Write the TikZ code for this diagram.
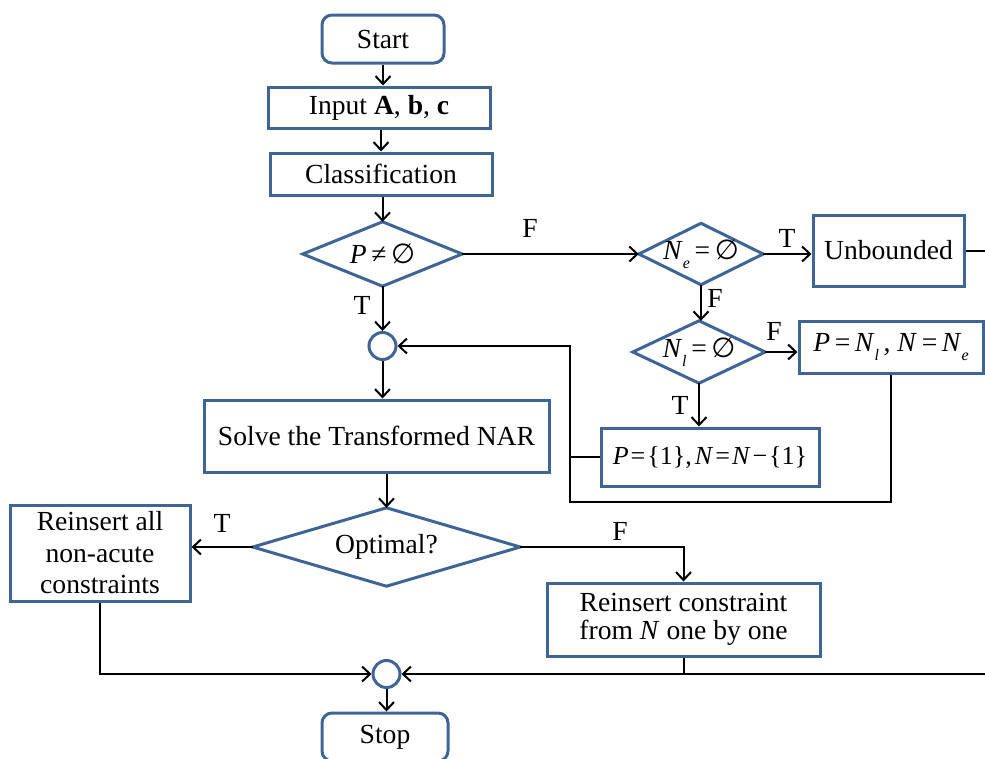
\documentclass[tikz,border=0pt]{standalone}
\usepackage{fontspec}
\setmainfont{Liberation Serif}
\newfontfamily\symfont{DejaVu Sans}
\usetikzlibrary{arrows.meta}
\definecolor{boxblue}{RGB}{62,101,150}
\newcommand\lsub[1]{\raisebox{-0.32em}{\fontsize{16}{16}\selectfont\itshape #1}}
\newcommand\emptys{{\symfont ∅}}
\newcommand\fdiamond[6]{%
  \node[inner sep=0pt, minimum width=#4pt, minimum height=#5pt] (#1) at (#2,#3) {};
  \draw[boxblue, line width=3pt, line join=miter] (#1.north) -- (#1.east) -- (#1.south) -- (#1.west) -- cycle;
  \node (#1-t) at (#1) {#6};}
\begin{document}
\begin{tikzpicture}[x=1pt,y=-1pt,
  font=\fontsize{27.6}{31.5}\selectfont,
  box/.style={draw=boxblue, line width=3pt, rectangle, inner sep=0pt, align=center},
  term/.style={box, rounded corners=10pt},
  junc/.style={draw=boxblue, line width=3pt, circle, inner sep=0pt, minimum size=27pt},
  conn/.style={draw=black, line width=2pt},
  arr/.style={conn, -{Straight Barb[length=8pt,width=15pt]}},
  lab/.style={inner sep=0pt}]
\useasboundingbox (0,0) rectangle (985,758);
\clip (0,0) rectangle (985,758);

% nodes
\node[term, minimum width=122pt, minimum height=48pt] (start) at (383,39) {Start};
\node[box, minimum width=222pt, minimum height=41pt] (input) at (379,107.5) {Input \textbf{A}, \textbf{b}, \textbf{c}};
\node[box, minimum width=222pt, minimum height=42pt] (class) at (381,174) {Classification};
\fdiamond{d1}{382.5}{254}{159}{64}{\textit{P}\,≠\,\emptys}
\fdiamond{d2}{701}{254}{124}{61}{\textit{N}\lsub{e}\,=\,\emptys}
\node[box, minimum width=151pt, minimum height=71pt] (unb) at (888.5,250.5) {Unbounded};
\fdiamond{d3}{699}{352}{132}{62}{\textit{N}\lsub{l}\,=\,\emptys}
\node[box, minimum width=184pt, minimum height=52pt] (pnl) at (891,347) {\textit{P}\,=\,\textit{N}\lsub{l}\,, \textit{N}\,=\,\textit{N}\lsub{e}};
\node[box, minimum width=218pt, minimum height=58pt, font=\fontsize{26}{30}\selectfont] (p1) at (710,457) {\textit{P}\hspace{2pt}=\hspace{2pt}\{1\},\hspace{3pt}\textit{N}\hspace{2pt}=\hspace{2pt}\textit{N}\hspace{2pt}−\hspace{2pt}\{1\}};
\node[junc] (c1) at (382.5,346) {};
\node[box, minimum width=345pt, minimum height=72pt] (solve) at (376.5,436) {Solve the Transformed NAR};
\fdiamond{opt}{386.5}{547}{267}{78}{Optimal?}
\node[box, minimum width=180pt, minimum height=96pt] (rall) at (100,553) {Reinsert all\\non-acute\\constraints};
\node[box, minimum width=273pt, minimum height=73pt, font=\fontsize{27.6}{28.5}\selectfont] (rcon) at (683.5,619.5) {Reinsert constraint\\from \textit{N} one by one};
\node[junc] (c2) at (386.5,674) {};
\node[term, minimum width=126pt, minimum height=48pt] (stop) at (385,737) {Stop};

% coordinates
\coordinate (ja) at (570,346);
\coordinate (jb) at (570,502);
\coordinate (re1) at (985,250.5);
\coordinate (re2) at (985,674);

% connectors
\draw[arr] (start.south) -- (start.south |- input.north);
\draw[arr] (input.south -| class.north) -- (class.north);
\draw[arr] (class.south -| d1.north) -- (d1.north);
\draw[arr] (d1.east) -- (d2.west);
\draw[arr] (d2.east) -- (d2.east -| unb.west);
\draw[conn] (unb.east) -- (re1);
\draw[arr] (d2.south) -- (d2.south |- d3.north);
\draw[arr] (d3.east) -- (d3.east -| pnl.west);
\draw[arr] (d3.south) -- (d3.south |- p1.north);
\draw[arr] (d1.south) -- (c1.north);
\draw[arr] (pnl.south) |- (jb) -- (ja) -- (c1.east);
\draw[conn] (p1.west) -- (p1.west -| ja);
\draw[arr] (c1.south) -- (c1.south |- solve.north);
\draw[arr] (solve.south -| opt.north) -- (opt.north);
\draw[arr] (opt.west) -- (opt.west -| rall.east);
\draw[arr] (opt.east) -| (rcon.north);
\draw[arr] (rall.south) |- (c2.west);
\draw[arr] (re2) -- (c2.east);
\draw[conn] (rcon.south) -- (rcon.south |- c2);
\draw[arr] (c2.south) -- (c2.south |- stop.north);

% labels
\node[lab] at (530,228) {F};
\node[lab] at (787,238) {T};
\node[lab] at (715,298) {F};
\node[lab] at (774,331) {F};
\node[lab] at (680,405) {T};
\node[lab] at (362,305) {T};
\node[lab] at (222,523) {T};
\node[lab] at (620,531) {F};
\end{tikzpicture}
\end{document}
